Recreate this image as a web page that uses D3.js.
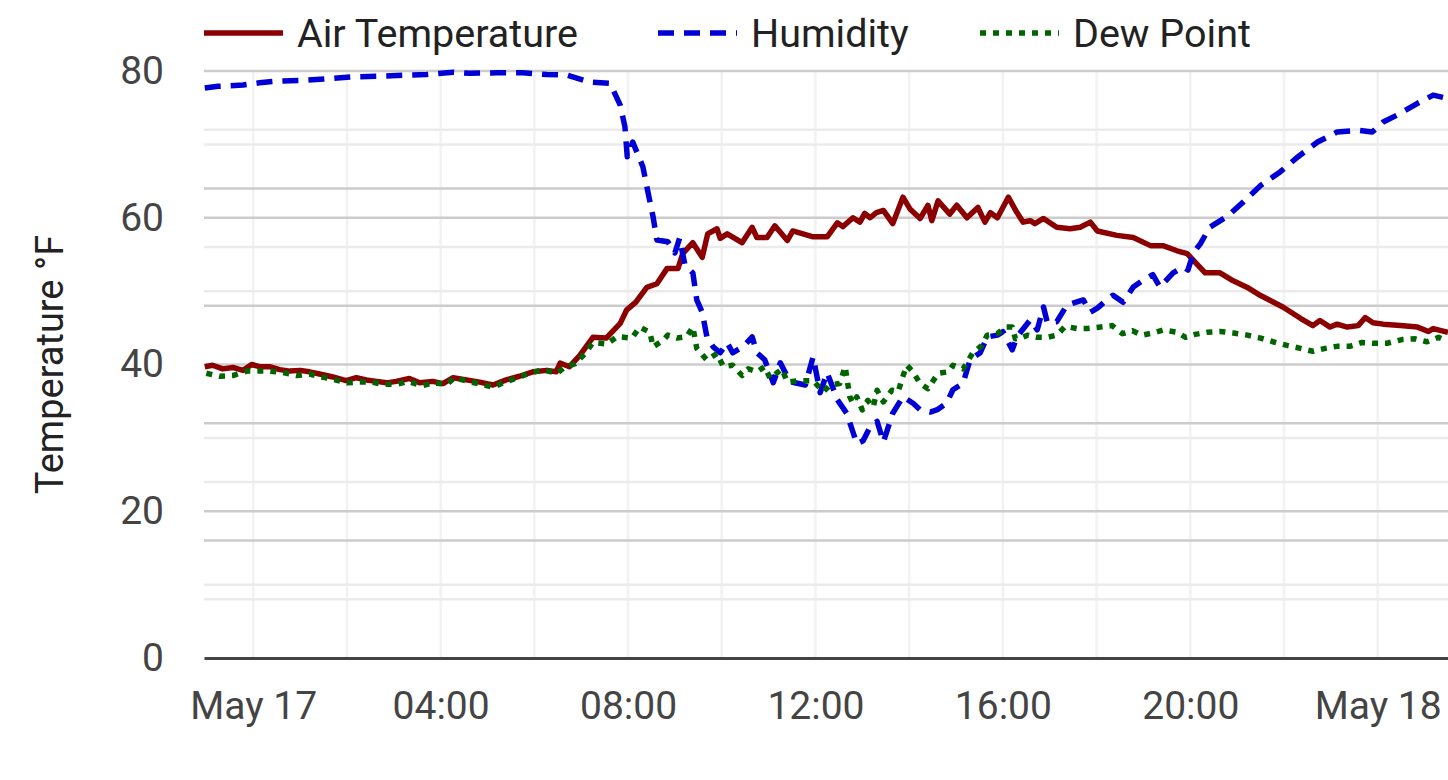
<!DOCTYPE html>
<html>
<head>
<meta charset="utf-8">
<script src="https://cdn.jsdelivr.net/npm/d3@7"></script>
<style>
    body { margin: 0; background: #fff; }
    svg { display: block; font-family: Roboto, sans-serif; }
</style>
</head>
<body>
<svg id="chart" width="1448" height="780"></svg>
<script>
// readings, May 16 late evening to May 18 early morning
const tempTimes = [
    '05-16 22:58', '05-16 23:08', '05-16 23:21', '05-16 23:34', '05-16 23:47', '05-16 23:58',
    '05-17 00:08', '05-17 00:21', '05-17 00:34', '05-17 00:47', '05-17 01:00', '05-17 01:12',
    '05-17 01:25', '05-17 01:42', '05-17 01:59', '05-17 02:12', '05-17 02:25', '05-17 02:38',
    '05-17 02:51', '05-17 03:03', '05-17 03:20', '05-17 03:33', '05-17 03:50', '05-17 04:03',
    '05-17 04:16', '05-17 04:33', '05-17 04:50', '05-17 05:07', '05-17 05:24', '05-17 05:41',
    '05-17 05:58', '05-17 06:16', '05-17 06:28', '05-17 06:33', '05-17 06:45', '05-17 06:58',
    '05-17 07:15', '05-17 07:32', '05-17 07:50', '05-17 07:58', '05-17 08:10', '05-17 08:24',
    '05-17 08:37', '05-17 08:50', '05-17 09:04', '05-17 09:10', '05-17 09:23', '05-17 09:35',
    '05-17 09:42', '05-17 09:54', '05-17 09:58', '05-17 10:07', '05-17 10:26', '05-17 10:39',
    '05-17 10:45', '05-17 10:58', '05-17 11:08', '05-17 11:24', '05-17 11:31', '05-17 11:57',
    '05-17 12:15', '05-17 12:28', '05-17 12:35', '05-17 12:48', '05-17 12:57', '05-17 13:03',
    '05-17 13:10', '05-17 13:18', '05-17 13:27', '05-17 13:39', '05-17 13:52', '05-17 14:01',
    '05-17 14:14', '05-17 14:24', '05-17 14:29', '05-17 14:37', '05-17 14:52', '05-17 15:01',
    '05-17 15:14', '05-17 15:28', '05-17 15:37', '05-17 15:44', '05-17 15:53', '05-17 16:07',
    '05-17 16:18', '05-17 16:26', '05-17 16:35', '05-17 16:41', '05-17 16:52', '05-17 17:09',
    '05-17 17:26', '05-17 17:39', '05-17 17:52', '05-17 18:01', '05-17 18:26', '05-17 18:47',
    '05-17 19:09', '05-17 19:25', '05-17 19:43', '05-17 19:56', '05-17 20:19', '05-17 20:38',
    '05-17 20:55', '05-17 21:13', '05-17 21:30', '05-17 21:59', '05-17 22:21', '05-17 22:37',
    '05-17 22:46', '05-17 22:59', '05-17 23:08', '05-17 23:21', '05-17 23:35', '05-17 23:44',
    '05-17 23:54', '05-18 00:07', '05-18 00:29', '05-18 00:51', '05-18 01:05', '05-18 01:11',
    '05-18 01:30'
];
const tempValues = [
    39.7, 39.9, 39.4, 39.6, 39.2, 40.0,
    39.7, 39.7, 39.3, 39.1, 39.2, 39.0,
    38.7, 38.3, 37.8, 38.2, 37.9, 37.7,
    37.5, 37.7, 38.1, 37.5, 37.7, 37.4,
    38.2, 37.9, 37.6, 37.2, 37.9, 38.4,
    39.0, 39.2, 39.0, 40.2, 39.7, 41.2,
    43.7, 43.6, 45.6, 47.4, 48.5, 50.5,
    51.0, 53.1, 53.1, 55.1, 56.6, 54.6,
    57.8, 58.5, 57.2, 57.8, 56.6, 58.7,
    57.3, 57.3, 58.9, 56.9, 58.2, 57.4,
    57.4, 59.3, 58.8, 60.0, 59.4, 60.6,
    60.0, 60.7, 61.0, 59.2, 62.8, 61.2,
    59.9, 61.7, 59.6, 62.3, 60.5, 61.7,
    60.0, 61.4, 59.4, 60.7, 60.0, 62.8,
    60.7, 59.4, 59.6, 59.2, 59.9, 58.7,
    58.5, 58.7, 59.4, 58.2, 57.6, 57.3,
    56.2, 56.2, 55.5, 55.1, 52.5, 52.5,
    51.4, 50.5, 49.4, 47.8, 46.3, 45.3,
    46.0, 45.1, 45.5, 45.1, 45.3, 46.4,
    45.7, 45.5, 45.3, 45.1, 44.5, 44.9,
    44.4
];

const humTimes = [
    '05-16 22:58', '05-16 23:15', '05-16 23:47', '05-17 00:08', '05-17 00:34', '05-17 01:03',
    '05-17 01:38', '05-17 02:07', '05-17 02:42', '05-17 03:17', '05-17 03:42', '05-17 04:16',
    '05-17 04:37', '05-17 05:12', '05-17 05:45', '05-17 06:16', '05-17 06:42', '05-17 07:11',
    '05-17 07:37', '05-17 07:50', '05-17 07:56', '05-17 07:59', '05-17 08:06', '05-17 08:19',
    '05-17 08:25', '05-17 08:32', '05-17 08:37', '05-17 08:51', '05-17 09:00', '05-17 09:06',
    '05-17 09:13', '05-17 09:23', '05-17 09:28', '05-17 09:35', '05-17 09:41', '05-17 09:49',
    '05-17 09:58', '05-17 10:07', '05-17 10:14', '05-17 10:27', '05-17 10:39', '05-17 10:45',
    '05-17 10:55', '05-17 11:06', '05-17 11:15', '05-17 11:27', '05-17 11:47', '05-17 11:57',
    '05-17 12:06', '05-17 12:15', '05-17 12:28', '05-17 12:40', '05-17 12:48', '05-17 12:53',
    '05-17 13:01', '05-17 13:10', '05-17 13:19', '05-17 13:27', '05-17 13:39', '05-17 13:52',
    '05-17 14:05', '05-17 14:14', '05-17 14:27', '05-17 14:36', '05-17 14:48', '05-17 14:56',
    '05-17 15:09', '05-17 15:18', '05-17 15:31', '05-17 15:40', '05-17 15:53', '05-17 16:00',
    '05-17 16:12', '05-17 16:18', '05-17 16:35', '05-17 16:44', '05-17 16:52', '05-17 16:57',
    '05-17 17:09', '05-17 17:22', '05-17 17:43', '05-17 17:52', '05-17 18:01', '05-17 18:13',
    '05-17 18:21', '05-17 18:34', '05-17 18:47', '05-17 19:00', '05-17 19:12', '05-17 19:21',
    '05-17 19:38', '05-17 19:51', '05-17 19:57', '05-17 20:04', '05-17 20:13', '05-17 20:25',
    '05-17 20:47', '05-17 21:08', '05-17 21:30', '05-17 21:55', '05-17 22:18', '05-17 22:43',
    '05-17 23:08', '05-17 23:34', '05-17 23:53', '05-18 00:07', '05-18 00:25', '05-18 00:51',
    '05-18 01:11', '05-18 01:24'
];
const humValues = [
    97.1, 97.4, 97.6, 98.0, 98.3, 98.4,
    98.7, 99.0, 99.1, 99.3, 99.4, 99.8,
    99.6, 99.7, 99.7, 99.4, 99.3, 98.1,
    97.9, 94.2, 90.5, 85.4, 87.9, 83.7,
    79.7, 75.2, 71.2, 70.9, 69.0, 71.5,
    66.9, 65.6, 61.0, 58.9, 54.7, 53.0,
    52.0, 53.7, 52.0, 53.0, 54.7, 52.0,
    50.8, 46.9, 50.3, 47.1, 46.5, 51.3,
    45.2, 48.6, 44.0, 41.7, 38.5, 36.5,
    37.0, 39.4, 40.3, 36.8, 41.7, 44.5,
    43.4, 42.3, 41.9, 42.3, 43.4, 45.7,
    46.8, 50.8, 52.0, 54.7, 55.0, 55.6,
    52.5, 54.7, 57.6, 55.9, 59.8, 57.1,
    57.3, 60.1, 61.0, 58.9, 59.6, 61.0,
    61.8, 60.6, 63.2, 64.4, 65.3, 63.2,
    65.6, 66.6, 66.1, 69.0, 70.6, 73.4,
    75.2, 77.7, 80.5, 82.8, 85.4, 87.9,
    89.6, 89.9, 89.6, 91.3, 92.5, 94.5,
    95.9, 95.5
];

const dewTimes = [
    '05-16 23:00', '05-16 23:17', '05-16 23:34', '05-16 23:52', '05-17 00:06', '05-17 00:21',
    '05-17 00:38', '05-17 00:56', '05-17 01:12', '05-17 01:28', '05-17 01:42', '05-17 02:00',
    '05-17 02:16', '05-17 02:32', '05-17 02:46', '05-17 03:04', '05-17 03:18', '05-17 03:36',
    '05-17 03:50', '05-17 04:08', '05-17 04:18', '05-17 04:35', '05-17 04:53', '05-17 05:07',
    '05-17 05:22', '05-17 05:38', '05-17 05:54', '05-17 06:11', '05-17 06:29', '05-17 06:37',
    '05-17 06:52', '05-17 07:05', '05-17 07:15', '05-17 07:33', '05-17 07:46', '05-17 08:05',
    '05-17 08:15', '05-17 08:28', '05-17 08:32', '05-17 08:45', '05-17 08:51', '05-17 09:03',
    '05-17 09:15', '05-17 09:23', '05-17 09:28', '05-17 09:41', '05-17 09:54', '05-17 10:02',
    '05-17 10:14', '05-17 10:26', '05-17 10:34', '05-17 10:45', '05-17 10:55', '05-17 11:02',
    '05-17 11:17', '05-17 11:24', '05-17 11:40', '05-17 11:57', '05-17 12:10', '05-17 12:19',
    '05-17 12:31', '05-17 12:38', '05-17 12:44', '05-17 12:48', '05-17 12:53', '05-17 13:00',
    '05-17 13:07', '05-17 13:14', '05-17 13:19', '05-17 13:27', '05-17 13:38', '05-17 13:46',
    '05-17 13:51', '05-17 13:57', '05-17 14:05', '05-17 14:14', '05-17 14:24', '05-17 14:37',
    '05-17 14:50', '05-17 14:56', '05-17 15:09', '05-17 15:21', '05-17 15:33', '05-17 15:40',
    '05-17 15:53', '05-17 16:03', '05-17 16:12', '05-17 16:16', '05-17 16:25', '05-17 16:32',
    '05-17 16:44', '05-17 16:57', '05-17 17:09', '05-17 17:20', '05-17 17:35', '05-17 17:48',
    '05-17 18:05', '05-17 18:20', '05-17 18:33', '05-17 18:46', '05-17 18:58', '05-17 19:12',
    '05-17 19:25', '05-17 19:43', '05-17 19:54', '05-17 20:06', '05-17 20:22', '05-17 20:38',
    '05-17 20:55', '05-17 21:13', '05-17 21:30', '05-17 21:46', '05-17 22:04', '05-17 22:21',
    '05-17 22:37', '05-17 22:53', '05-17 23:09', '05-17 23:25', '05-17 23:40', '05-17 23:54',
    '05-18 00:12', '05-18 00:31', '05-18 00:48', '05-18 01:03', '05-18 01:18', '05-18 01:27'
];
const dewValues = [
    38.8, 38.4, 38.5, 39.1, 39.1, 39.1,
    38.9, 38.5, 38.7, 38.3, 38.0, 37.5,
    37.6, 37.6, 37.3, 37.3, 37.7, 37.1,
    37.5, 37.3, 38.2, 37.7, 37.3, 36.9,
    37.6, 38.2, 38.8, 39.3, 38.8, 39.5,
    40.1, 41.5, 43.0, 42.8, 43.8, 43.6,
    45.1, 44.4, 42.4, 43.3, 44.0, 43.6,
    43.8, 45.1, 42.2, 40.6, 41.5, 39.7,
    39.9, 38.5, 39.4, 39.0, 39.7, 38.1,
    39.4, 37.6, 37.8, 37.8, 36.3, 37.2,
    37.4, 39.7, 35.6, 34.7, 35.6, 33.8,
    35.1, 34.2, 36.5, 34.9, 36.5, 36.3,
    38.1, 39.9, 39.0, 37.4, 36.7, 38.8,
    39.0, 39.9, 39.4, 41.5, 42.6, 44.0,
    44.2, 45.1, 45.1, 43.5, 43.7, 44.0,
    43.7, 43.7, 44.0, 45.2, 44.9, 44.9,
    45.1, 45.3, 44.2, 44.6, 44.0, 44.3,
    44.7, 44.4, 43.7, 44.1, 44.4, 44.5,
    44.3, 44.0, 43.6, 43.1, 42.6, 42.2,
    41.8, 42.2, 42.5, 42.5, 43.0, 42.9,
    42.9, 43.4, 43.5, 43.1, 43.7, 43.3
];

const timeExtent = ['05-16 22:57', '05-18 01:30'];
const tempTicks = [0, 20, 40, 60, 80];
const tempMinor = [10, 30, 50, 70];
const humMajor = [20, 40, 60, 80];
const humMinor = [10, 30, 70, 90];
const seriesNames = ['Air Temperature', 'Humidity', 'Dew Point'];

const width = 1448;
const height = 780;
const margin = { top: 71, right: 0, bottom: 122, left: 204 };
const plotBottom = height - margin.bottom;
const legendX = [204, 658, 980];

const parseTime = d3.timeParse('%m-%d %H:%M');
const fontSize = 39;

const x = d3.scaleTime()
    .domain(timeExtent.map(parseTime))
    .range([margin.left, width - margin.right]);

const y = d3.scaleLinear()
    .domain([0, 80])
    .range([plotBottom, margin.top]);

// humidity sits on a 0-100 % scale (its axis is off to the right)
const yHum = d3.scaleLinear()
    .domain([0, 100])
    .range([plotBottom, margin.top]);

const svg = d3.select('#chart');

// Grid
const grid = svg.append('g').attr('class', 'grid');

grid.selectAll('.vgrid')
    .data(x.ticks(d3.timeHour.every(2)))
    .enter().append('line')
    .attr('x1', d => x(d)).attr('x2', d => x(d))
    .attr('y1', margin.top).attr('y2', plotBottom)
    .attr('stroke', '#f2f2f2')
    .attr('stroke-width', 2.5);

const hLines = (vals, scale, color) => {
    grid.selectAll(null)
        .data(vals)
        .enter().append('line')
        .attr('x1', margin.left).attr('x2', width - margin.right)
        .attr('y1', d => scale(d)).attr('y2', d => scale(d))
        .attr('stroke', color)
        .attr('stroke-width', 2.5);
};
hLines(tempMinor, y, '#ebebeb');
hLines(humMinor, yHum, '#ebebeb');
hLines(tempTicks.slice(1), y, '#cccccc');
hLines(humMajor, yHum, '#cccccc');

// Axes
const fmtDay = d3.timeFormat('%b %d');
const fmtHour = d3.timeFormat('%H:%M');

const xAxis = svg.append('g')
    .attr('transform', `translate(0, ${plotBottom})`)
    .call(d3.axisBottom(x)
        .ticks(d3.timeHour.every(4))
        .tickSize(0)
        .tickPadding(33)
        .tickFormat(d => d.getHours() === 0 ? fmtDay(d) : fmtHour(d)));
xAxis.select('.domain').attr('stroke', '#444').attr('stroke-width', 3);
xAxis.selectAll('text')
    .attr('fill', '#444')
    .style('font-size', fontSize + 'px')
    .style('font-family', 'Roboto, sans-serif');

const yAxis = svg.append('g')
    .attr('transform', `translate(${margin.left}, 0)`)
    .call(d3.axisLeft(y)
        .tickValues(tempTicks)
        .tickSize(0)
        .tickPadding(40));
yAxis.select('.domain').remove();
yAxis.selectAll('text')
    .attr('fill', '#444')
    .style('font-size', fontSize + 'px')
    .style('font-family', 'Roboto, sans-serif');

svg.append('text')
    .attr('transform', 'rotate(-90)')
    .attr('x', -(margin.top + plotBottom) / 2)
    .attr('y', 63)
    .attr('text-anchor', 'middle')
    .attr('fill', '#222')
    .style('font-size', '38px')
    .text('Temperature °F');

// Lines
const toPoints = (times, values) => times.map((t, i) => ({ t: parseTime(t), v: values[i] }));

const series = [
    { name: seriesNames[0], data: toPoints(tempTimes, tempValues), scale: y, color: '#8b0000', dash: null },
    { name: seriesNames[1], data: toPoints(humTimes, humValues), scale: yHum, color: '#0000d6', dash: '16,10' },
    { name: seriesNames[2], data: toPoints(dewTimes, dewValues), scale: y, color: '#006400', dash: '6,7' }
];

series.forEach(s => {
    const line = d3.line()
        .x(d => x(d.t))
        .y(d => s.scale(d.v));

    svg.append('path')
        .datum(s.data)
        .attr('fill', 'none')
        .attr('stroke', s.color)
        .attr('stroke-width', 5.5)
        .attr('stroke-linejoin', 'round')
        .attr('stroke-dasharray', s.dash)
        .attr('d', line);
});

// Legend
const legend = svg.append('g').attr('class', 'legend');
series.forEach((s, i) => {
    const lx = legendX[i];
    legend.append('line')
        .attr('x1', lx).attr('x2', lx + 79)
        .attr('y1', 33).attr('y2', 33)
        .attr('stroke', s.color)
        .attr('stroke-width', 5.5)
        .attr('stroke-dasharray', s.dash);
    legend.append('text')
        .attr('x', lx + 93)
        .attr('y', 47)
        .attr('fill', '#222')
        .style('font-size', '39.5px')
        .text(s.name);
});
</script>
</body>
</html>
